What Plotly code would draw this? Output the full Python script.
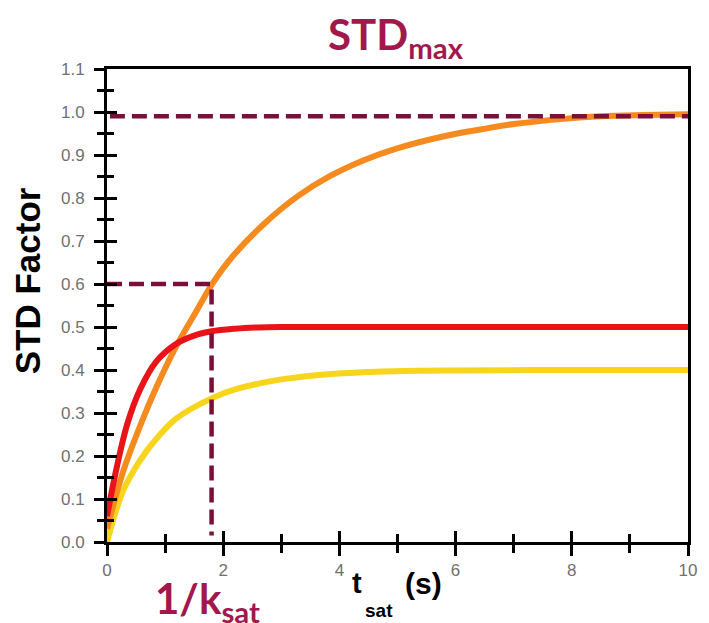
import plotly.graph_objects as go

# ---- data ----
orange_t = [0, 0.28, 0.57, 0.85, 1.19, 1.53, 1.82, 2.16, 2.72, 3.29, 3.85, 4.42, 4.98, 5.88, 6.45, 7.0, 7.86, 8.5, 9.2, 10]
orange_v = [0.03, 0.165, 0.27, 0.36, 0.455, 0.535, 0.602, 0.664, 0.742, 0.805, 0.852, 0.888, 0.915, 0.946, 0.96, 0.972, 0.984, 0.99, 0.993, 0.995]

red_t = [0, 0.17, 0.35, 0.57, 0.85, 1.18, 1.5, 1.8, 2.2, 2.6, 3.0, 4, 6, 8, 10]
red_v = [0.06, 0.175, 0.275, 0.355, 0.42, 0.46, 0.48, 0.49, 0.496, 0.499, 0.5, 0.5, 0.5, 0.5, 0.5]

yellow_t = [0, 0.28, 0.57, 0.85, 1.19, 1.8, 2.26, 2.95, 3.6, 4.64, 6, 8, 10]
yellow_v = [0.0, 0.12, 0.19, 0.24, 0.287, 0.334, 0.357, 0.377, 0.388, 0.396, 0.399, 0.4, 0.4]

std_max = 0.99
std_max_t = [0.05, 10]
k_sat_inv = 1.8
k_sat_level = 0.6
k_sat_floor = 0.015

x_ticks = [0, 2, 4, 6, 8, 10]
y_ticks = [0.0, 0.1, 0.2, 0.3, 0.4, 0.5, 0.6, 0.7, 0.8, 0.9, 1.0, 1.1]

MAROON_DASH = "#7A1038"
MAROON_TEXT = "#A1184D"
RED = "#E8141A"
ORANGE = "#F58A1F"
YELLOW = "#F7D51C"

fig = go.Figure()
for t, v, c in [(yellow_t, yellow_v, YELLOW), (orange_t, orange_v, ORANGE), (red_t, red_v, RED)]:
    fig.add_trace(go.Scatter(x=t, y=v, mode="lines",
                             line=dict(color=c, width=6, shape="spline", smoothing=1.0),
                             hoverinfo="skip"))

# dashed guides on the overlay subplot (drawn on top)
fig.add_trace(go.Scatter(x=std_max_t, y=[std_max, std_max], mode="lines", xaxis="x2", yaxis="y2",
                         line=dict(color=MAROON_DASH, width=4.5, dash="15px,7px"), hoverinfo="skip"))
fig.add_trace(go.Scatter(x=[0, k_sat_inv, k_sat_inv], y=[k_sat_level, k_sat_level, k_sat_floor], mode="lines",
                         xaxis="x2", yaxis="y2",
                         line=dict(color=MAROON_DASH, width=4.5, dash="15px,7px"), hoverinfo="skip"))

tickfont = dict(family="Liberation Sans, Arial, sans-serif", size=17, color="#707070")

fig.update_layout(
    width=709, height=623,
    margin=dict(l=107, r=12, t=69, b=81),
    paper_bgcolor="white", plot_bgcolor="white",
    showlegend=False,
    xaxis=dict(range=[0, 10], showgrid=False, zeroline=False, tickvals=x_ticks,
               ticktext=[str(v) for v in x_ticks], ticks="outside",
               ticklen=11, tickwidth=3, tickcolor="black",
               minor=dict(dtick=1, ticks="outside", ticklen=8, tickwidth=3, tickcolor="black"),
               showline=True, linecolor="black", linewidth=3, mirror=True, tickfont=tickfont),
    yaxis=dict(range=[0, 1.1], showgrid=False, zeroline=False, tickvals=y_ticks,
               ticktext=["%.1f" % v for v in y_ticks], ticks="outside",
               ticklen=10, tickwidth=3, tickcolor="black",
               minor=dict(dtick=0.05, ticks="outside", ticklen=7, tickwidth=3, tickcolor="black"),
               showline=True, linecolor="black", linewidth=3, mirror=True, tickfont=tickfont,
               ticklabelstandoff=6),
    xaxis2=dict(range=[0, 10], overlaying="x", anchor="y", side="bottom", showgrid=False, zeroline=False,
                tickvals=x_ticks, ticks="inside", ticklen=11, tickwidth=3, tickcolor="black",
                minor=dict(dtick=1, ticks="inside", ticklen=8, tickwidth=3, tickcolor="black"),
                showline=False, showticklabels=False),
    yaxis2=dict(range=[0, 1.1], overlaying="y", anchor="x", side="left", showgrid=False, zeroline=False,
                tickvals=y_ticks, ticks="inside", ticklen=10, tickwidth=3, tickcolor="black",
                minor=dict(dtick=0.05, ticks="inside", ticklen=7, tickwidth=3, tickcolor="black"),
                showline=False, showticklabels=False),
)

PW, PH, L, T = 590, 473, 107, 69


def px(xp):
    return (xp - L) / PW


def py(yp):
    return (T + PH - yp) / PH


bold_sans = "Liberation Sans, Arial, sans-serif"
lato = "Lato, Liberation Sans, sans-serif"

fig.add_annotation(text="<b>STD<sub>max</sub></b>", xref="paper", yref="paper", x=px(400), y=py(37),
                   xanchor="center", yanchor="middle", showarrow=False,
                   font=dict(family=lato, size=42, color=MAROON_TEXT))
fig.add_annotation(text="<b>1/k<sub>sat</sub></b>", xref="paper", yref="paper", x=px(209), y=py(601),
                   xanchor="center", yanchor="middle", showarrow=False,
                   font=dict(family=lato, size=42, color=MAROON_TEXT))
fig.add_annotation(text="<b>STD Factor</b>", xref="paper", yref="paper", x=px(26), y=py(281),
                   xanchor="center", yanchor="middle", textangle=-90, showarrow=False,
                   font=dict(family=bold_sans, size=35, color="black"))
fig.add_annotation(text="<b>t</b>", xref="paper", yref="paper", x=px(354), y=py(583),
                   xanchor="left", yanchor="middle", showarrow=False,
                   font=dict(family=bold_sans, size=29, color="black"))
fig.add_annotation(text="<b>sat</b>", xref="paper", yref="paper", x=px(367), y=py(610),
                   xanchor="left", yanchor="middle", showarrow=False,
                   font=dict(family=bold_sans, size=19, color="black"))
fig.add_annotation(text="<b>(s)</b>", xref="paper", yref="paper", x=px(408), y=py(583),
                   xanchor="left", yanchor="middle", showarrow=False,
                   font=dict(family=bold_sans, size=30, color="black"))

fig.write_html("out.html")
